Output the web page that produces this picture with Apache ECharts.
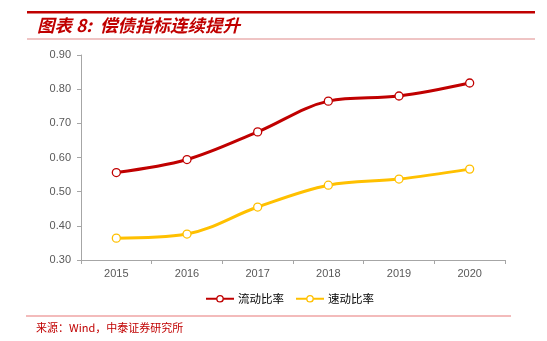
<!DOCTYPE html>
<html><head><meta charset="utf-8">
<script src="https://cdn.jsdelivr.net/npm/echarts@6/dist/echarts.min.js"></script>
<style>html,body{margin:0;padding:0;background:#fff}#c{width:547px;height:341px}</style>
</head><body><div id="c"></div>
<script>
const categories = ['2015','2016','2017','2018','2019','2020'];
const currentRatio = [0.556, 0.594, 0.675, 0.765, 0.780, 0.818];
const quickRatio = [0.364, 0.376, 0.455, 0.519, 0.537, 0.566];
const seriesNames = ['流动比率','速动比率'];
const titleText = '图表 8:  偿债指标连续提升';
const sourceText = '来源：Wind，中泰证券研究所';

const chart = echarts.init(document.getElementById('c'), null, {renderer:'canvas'});
const lineS = (name, data, color) => ({
  name, type:'line', data, smooth:0.35, symbol:'circle', symbolSize:8,
  lineStyle:{color, width:3},
  itemStyle:{color:'#fff', borderColor:color, borderWidth:1.3},
  emphasis:{disabled:true}
});
chart.setOption({
  animation:false,
  backgroundColor:'#fff',
  grid:{left:81, right:42, top:55, bottom:81},
  legend:{
    top:288, left:200, itemWidth:28, itemHeight:8, itemGap:11,
    textStyle:{color:'#000', fontSize:11.5, fontFamily:'Noto Sans CJK SC', padding:[0,0,0,-1]},
    data:[{name:seriesNames[0], itemStyle:{color:'#fff', borderColor:'#C00000', borderWidth:1.3}},
          {name:seriesNames[1], itemStyle:{color:'#fff', borderColor:'#FFC000', borderWidth:1.3}}]
  },
  xAxis:{
    type:'category', data:categories, boundaryGap:true,
    axisLine:{lineStyle:{color:'#A6A6A6', width:1}},
    axisTick:{show:true, alignWithLabel:false, length:4, lineStyle:{color:'#A6A6A6'}},
    axisLabel:{color:'#595959', fontSize:11, margin:8, fontFamily:'Liberation Sans'}
  },
  yAxis:{
    type:'value', min:0.3, max:0.9, interval:0.1,
    axisLine:{show:true, lineStyle:{color:'#A6A6A6', width:1}},
    axisTick:{show:true, length:4, lineStyle:{color:'#A6A6A6'}},
    splitLine:{show:false},
    axisLabel:{color:'#595959', fontSize:11, margin:10, fontFamily:'Liberation Sans',
      formatter:v=>v.toFixed(2)}
  },
  series:[lineS(seriesNames[0], currentRatio, '#C00000'), lineS(seriesNames[1], quickRatio, '#FFC000')],
  graphic:[
    {type:'rect', shape:{x:27, y:11, width:508, height:2.5}, style:{fill:'#C00000'}},
    {type:'text', left:37, top:17, style:{text:titleText, fill:'#C00000',
      font:'italic bold 17.5px "Noto Sans CJK SC"'}},
    {type:'rect', shape:{x:27, y:38.5, width:508, height:1}, style:{fill:'#E08A8A'}},
    {type:'rect', shape:{x:26, y:315.5, width:485, height:1}, style:{fill:'#E87878'}},
    {type:'text', left:36, top:322, style:{text:sourceText, fill:'#C00000',
      font:'11px "Noto Sans CJK SC"'}}
  ]
});
</script></body></html>
